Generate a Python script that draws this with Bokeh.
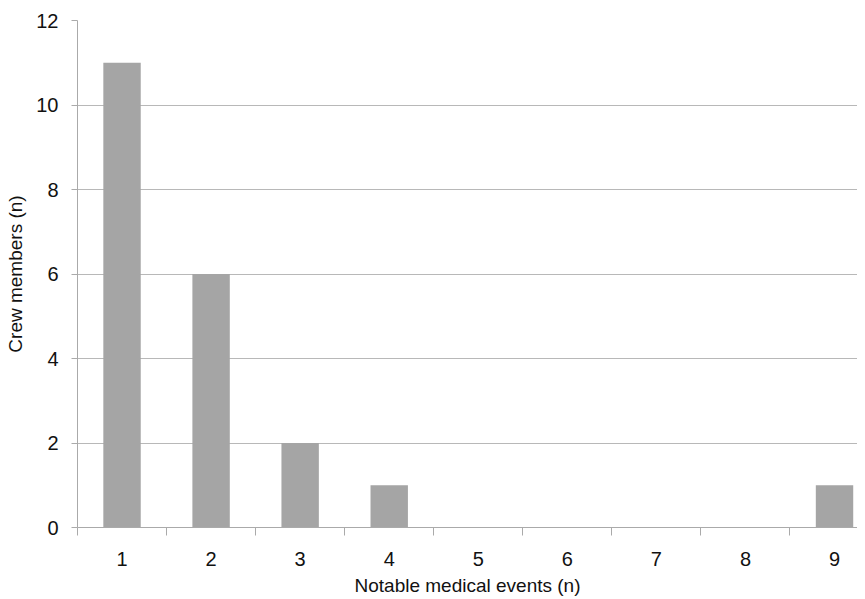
from bokeh.plotting import figure
from bokeh.models import FixedTicker, ColumnDataSource, Range1d
from bokeh.embed import file_html
from bokeh.resources import INLINE

events = [1, 2, 3, 4, 5, 6, 7, 8, 9]
crew = [11, 6, 2, 1, 0, 0, 0, 0, 1]
y_ticks = [0, 2, 4, 6, 8, 10, 12]
x_label = "Notable medical events (n)"
y_label = "Crew members (n)"

src = ColumnDataSource(dict(x=events, top=crew))

p = figure(width=857, height=598, output_backend="svg", toolbar_location=None,
           x_range=Range1d(0.5, 9.258), y_range=Range1d(0, 12),
           min_border_left=77, min_border_right=0, min_border_top=20, min_border_bottom=69)
p.outline_line_color = None

p.vbar(x="x", top="top", bottom=0, width=0.42, source=src, color="#a5a5a5", line_color=None)

FONT = "Liberation Sans"

xa = p.xaxis[0]
xa.ticker = FixedTicker(ticks=events, minor_ticks=[e - 0.5 for e in events] + [9.5])
xa.major_tick_line_color = None
xa.major_tick_out = 0
xa.major_tick_in = 0
xa.minor_tick_line_color = "#aaaaaa"
xa.minor_tick_out = 8
xa.minor_tick_in = 0
xa.axis_line_color = "#aaaaaa"
xa.major_label_standoff = 16
xa.axis_label = x_label
xa.axis_label_standoff = 6

ya = p.yaxis[0]
ya.ticker = FixedTicker(ticks=y_ticks, minor_ticks=[])
ya.major_tick_line_color = "#aaaaaa"
ya.major_tick_out = 6
ya.major_tick_in = 0
ya.minor_tick_line_color = None
ya.axis_line_color = "#aaaaaa"
ya.major_label_standoff = 13
ya.axis_label = y_label
ya.axis_label_standoff = 7

for ax in (xa, ya):
    ax.major_label_text_font = FONT
    ax.major_label_text_font_size = "20px"
    ax.major_label_text_color = "#111111"
    ax.axis_label_text_font = FONT
    ax.axis_label_text_font_size = "19px"
    ax.axis_label_text_font_style = "normal"
    ax.axis_label_text_color = "#111111"

p.xgrid.grid_line_color = None
p.ygrid.grid_line_color = "#b8b8b8"
p.ygrid.ticker = FixedTicker(ticks=y_ticks)

open("out.html", "w").write(file_html(p, INLINE))
